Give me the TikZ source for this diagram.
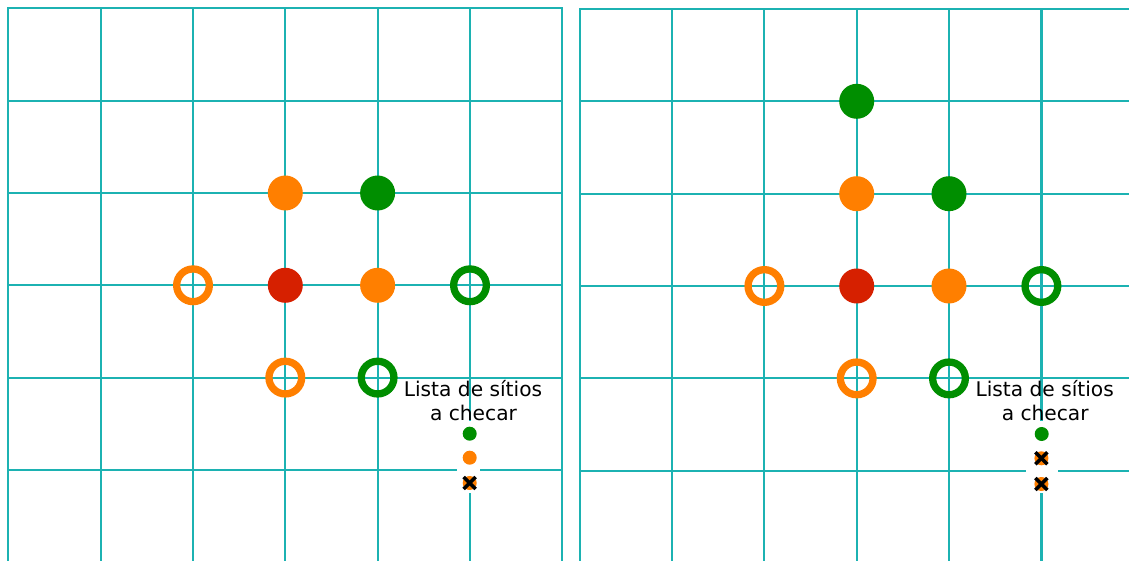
\documentclass[tikz,border=0pt]{standalone}
\usepackage{fontspec}
\setmainfont{DejaVu Sans}
\definecolor{gridc}{RGB}{28,178,178}
\definecolor{dotred}{RGB}{214,32,0}
\definecolor{dotorange}{RGB}{255,127,0}
\definecolor{dotgreen}{RGB}{0,142,0}
\tikzset{
  gridline/.style={draw=gridc,line width=2.1pt},
  fulldot/.style={circle,inner sep=0pt,minimum size=35pt,fill=#1},
  ringdot/.style={circle,inner sep=0pt,minimum size=32.7pt,draw=#1,line width=7.3pt},
  smalldot/.style={circle,inner sep=0pt,minimum size=14pt,fill=#1},
  xmark/.style={draw=black,line width=3.5pt},
  listlabel/.style={anchor=base,inner sep=0pt,font=\fontsize{20.2}{24}\selectfont},
}
\begin{document}
\begin{tikzpicture}[x=1pt,y=-1pt]
\useasboundingbox (0,0) rectangle (1129,561);
\clip (0,0) rectangle (1129,561);
% ---------- left grid ----------
\foreach \i in {1,...,5} {
  \draw[gridline] ({8.3+92.33*\i},8.3) -- ({8.3+92.33*\i},600);
}
\foreach \j in {1,...,5} {
  \draw[gridline] (8.3,{8.3+92.35*\j}) -- (562.3,{8.3+92.35*\j});
}
\draw[gridline] (8.3,600) -- (8.3,8.3) -- (562.3,8.3) -- (562.3,600);
% ---------- right grid ----------
\foreach \i in {1,...,5} {
  \draw[gridline] ({579.7+92.35*\i},9) -- ({579.7+92.35*\i},600);
}
\foreach \j in {1,...,5} {
  \draw[gridline] (579.7,{9+92.35*\j}) -- (1200,{9+92.35*\j});
}
\draw[gridline] (579.7,600) -- (579.7,9) -- (1200,9);
% ---------- left dots ----------
\node[fulldot=dotorange] (La) at (285.3,193) {};
\node[fulldot=dotgreen]  (Lb) at (377.6,193) {};
\node[ringdot=dotorange] (Lc) at (193,285.3) {};
\node[fulldot=dotred]    (Ld) at (285.3,285.3) {};
\node[fulldot=dotorange] (Le) at (377.6,285.3) {};
\node[ringdot=dotgreen]  (Lf) at (470,285.3) {};
\node[ringdot=dotorange] (Lg) at (285.3,377.6) {};
\node[ringdot=dotgreen]  (Lh) at (377.6,377.6) {};
% ---------- right dots ----------
\node[fulldot=dotgreen]  (Ra) at (856.7,101.3) {};
\node[fulldot=dotorange] (Rb) at (856.7,193.7) {};
\node[fulldot=dotgreen]  (Rc) at (949,193.7) {};
\node[ringdot=dotorange] (Rd) at (764.4,286) {};
\node[fulldot=dotred]    (Re) at (856.7,286) {};
\node[fulldot=dotorange] (Rf) at (949,286) {};
\node[ringdot=dotgreen]  (Rg) at (1041.4,286) {};
\node[ringdot=dotorange] (Rh) at (856.7,378.4) {};
\node[ringdot=dotgreen]  (Ri) at (949,378.4) {};
% ---------- left list ----------
\node[listlabel] (Lt1) at (473,396.5) {Lista de sítios};
\node[listlabel] (Lt2) at (473.5,420.7) {a checar};
\fill[white] (456.7,421) rectangle (480.3,493);
\node[smalldot=dotgreen]  (Ls1) at (469.7,433.7) {};
\node[smalldot=dotorange] (Ls2) at (469.7,457.7) {};
\node[smalldot=dotorange] (Ls3) at (469.7,483) {};
\draw[xmark] ([shift={(-6,-6)}]Ls3.center) -- ([shift={(6,6)}]Ls3.center);
\draw[xmark] ([shift={(-6,6)}]Ls3.center) -- ([shift={(6,-6)}]Ls3.center);
% ---------- right list ----------
\node[listlabel] (Rt1) at (1044.7,396.5) {Lista de sítios};
\node[listlabel] (Rt2) at (1045.2,420.7) {a checar};
\fill[white] (1026,421) rectangle (1057.7,493);
\node[smalldot=dotgreen]  (Rs1) at (1041.7,434) {};
\node[smalldot=dotorange] (Rs2) at (1041.4,458.3) {};
\node[smalldot=dotorange] (Rs3) at (1041.4,484) {};
\draw[xmark] ([shift={(-6,-6)}]Rs2.center) -- ([shift={(6,6)}]Rs2.center);
\draw[xmark] ([shift={(-6,6)}]Rs2.center) -- ([shift={(6,-6)}]Rs2.center);
\draw[xmark] ([shift={(-6,-6)}]Rs3.center) -- ([shift={(6,6)}]Rs3.center);
\draw[xmark] ([shift={(-6,6)}]Rs3.center) -- ([shift={(6,-6)}]Rs3.center);
\end{tikzpicture}
\end{document}
